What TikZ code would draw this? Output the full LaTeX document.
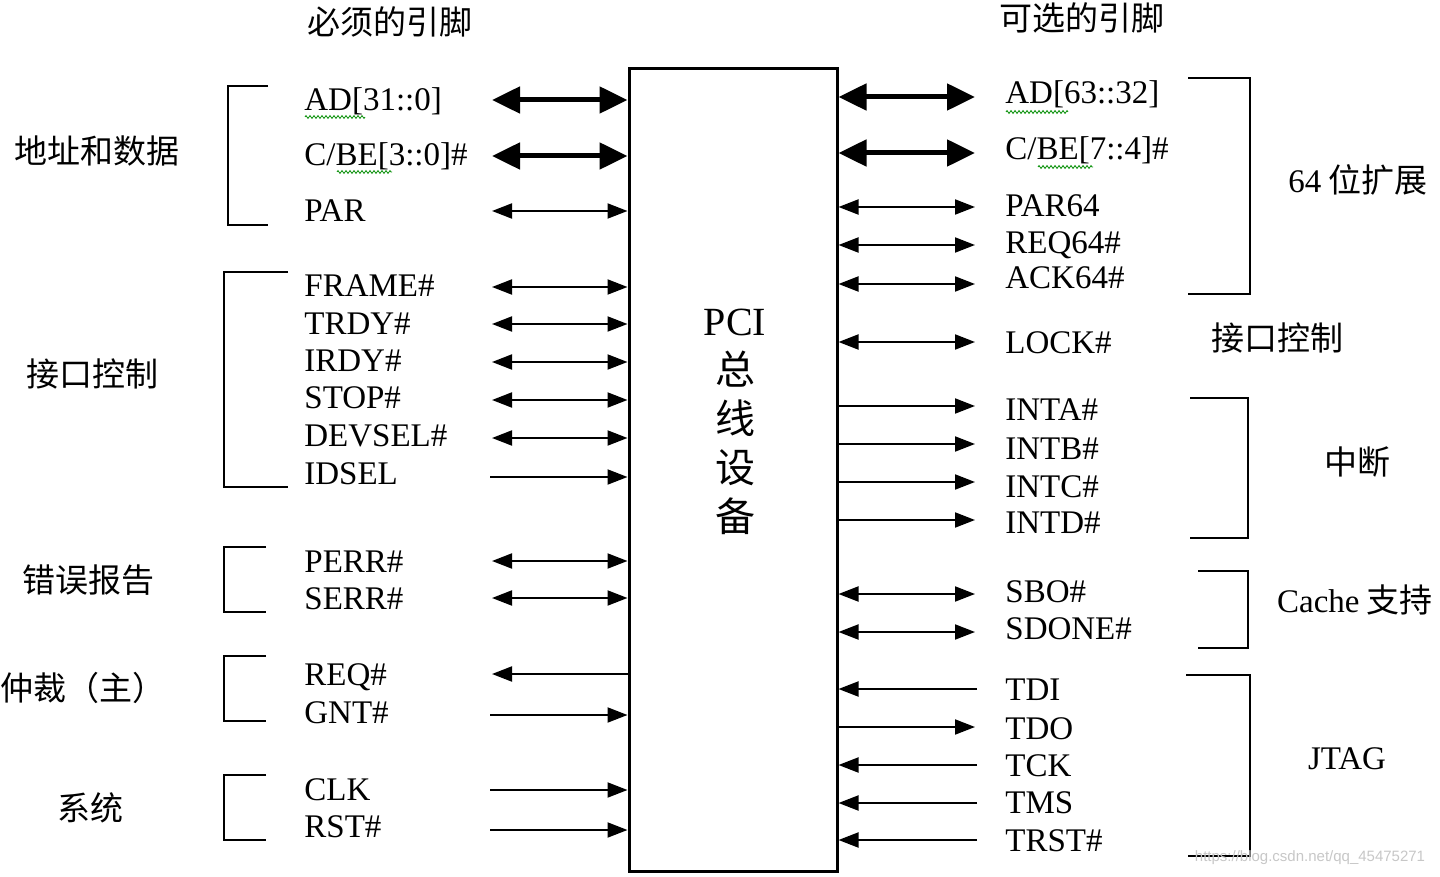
\documentclass[tikz,border=0pt]{standalone}
\usepackage{fontspec}
\setmainfont{Liberation Serif}
\setsansfont{Liberation Sans}
\newfontfamily\cjk{Noto Sans CJK SC}
\usetikzlibrary{arrows.meta,decorations.pathmorphing}

\tikzset{
  sig/.style={line width=1pt,>={Triangle[length=10pt,width=7.5pt]}},
  bus/.style={line width=2.5pt,>={Triangle[length=14pt,width=13pt]}},
  brk/.style={line width=1.3pt},
  pinl/.style={anchor=west,inner sep=0pt,text height=10.9pt,text depth=0pt,font=\fontsize{16.5}{20}\selectfont},
  grp/.style={inner sep=0pt,font=\fontsize{16.5}{20}\selectfont\cjk},
  squig/.style={green!55!black,line width=0.4pt,decorate,decoration={zigzag,segment length=2pt,amplitude=0.7pt}}
}

\begin{document}
\begin{tikzpicture}[x=0.5pt,y=-0.5pt,line cap=butt,line join=miter]
  \useasboundingbox (0,0) rectangle (1440,877);
  % the device
  \node[draw,line width=1.5pt,minimum width=104pt,minimum height=401pt,inner sep=0pt] (pci) at (733,470) {};
  \node[align=center,inner sep=0pt,font=\fontsize{20}{24.5}\selectfont] (pcitxt) at (735,422)
    {PCI\\{\cjk 总}\\{\cjk 线}\\{\cjk 设}\\{\cjk 备}};
  % titles
  \node[grp] (req) at (390,22) {必须的引脚};
  \node[grp] (opt) at (1082,18) {可选的引脚};

  % required pins
  \node[pinl] (ad) at (304,100) {AD[31::0]};
  \node[pinl] (cbe) at (304,155) {C/BE[3::0]\#};
  \node[pinl] (par) at (304,211) {PAR};
  \node[pinl] (frame) at (304,286) {FRAME\#};
  \node[pinl] (trdy) at (304,324) {TRDY\#};
  \node[pinl] (irdy) at (304,361) {IRDY\#};
  \node[pinl] (stop) at (304,398) {STOP\#};
  \node[pinl] (devsel) at (304,436) {DEVSEL\#};
  \node[pinl] (idsel) at (304,474) {IDSEL};
  \node[pinl] (perr) at (304,562) {PERR\#};
  \node[pinl] (serr) at (304,599) {SERR\#};
  \node[pinl] (reqn) at (304,675) {REQ\#};
  \node[pinl] (gnt) at (304,713) {GNT\#};
  \node[pinl] (clk) at (304,790) {CLK};
  \node[pinl] (rst) at (304,827) {RST\#};
  \draw[squig] (305,117) -- (365,117);
  \draw[squig] (337,172) -- (392,172);

  \draw[bus,<->] (492,100) coordinate (ad-x) -- (ad-x -| pci.west);
  \draw[bus,<->] (492,156) coordinate (cbe-x) -- (cbe-x -| pci.west);
  \draw[sig,<->] (492,211) coordinate (par-x) -- (par-x -| pci.west);
  \draw[sig,<->] (492,287) coordinate (frame-x) -- (frame-x -| pci.west);
  \draw[sig,<->] (492,324) coordinate (trdy-x) -- (trdy-x -| pci.west);
  \draw[sig,<->] (492,362) coordinate (irdy-x) -- (irdy-x -| pci.west);
  \draw[sig,<->] (492,400) coordinate (stop-x) -- (stop-x -| pci.west);
  \draw[sig,<->] (492,438) coordinate (devsel-x) -- (devsel-x -| pci.west);
  \draw[sig,->] (490,477) coordinate (idsel-x) -- (idsel-x -| pci.west);
  \draw[sig,<->] (492,561) coordinate (perr-x) -- (perr-x -| pci.west);
  \draw[sig,<->] (492,598) coordinate (serr-x) -- (serr-x -| pci.west);
  \draw[sig,<-] (492,674) coordinate (reqn-x) -- (reqn-x -| pci.west);
  \draw[sig,->] (490,715) coordinate (gnt-x) -- (gnt-x -| pci.west);
  \draw[sig,->] (490,790) coordinate (clk-x) -- (clk-x -| pci.west);
  \draw[sig,->] (490,830) coordinate (rst-x) -- (rst-x -| pci.west);

  % left groups
  \draw[brk] (268,86) -| (228,225) -- (268,225);
  \draw[brk] (288,272) -| (224,487) -- (288,487);
  \draw[brk] (266,547) -| (224,612) -- (266,612);
  \draw[brk] (266,656) -| (224,721) -- (266,721);
  \draw[brk] (266,775) -| (224,840) -- (266,840);
  \node[grp] (g-addr) at (97,151) {地址和数据};
  \node[grp] (g-ctrl) at (92,374) {接口控制};
  \node[grp] (g-err) at (88,580) {错误报告};
  \node[grp] (g-arb) at (83,688) {仲裁（主）};
  \node[grp] (g-sys) at (90,808) {系统};

  % optional pins
  \node[pinl] (ad64) at (1005,93) {AD[63::32]};
  \node[pinl] (cbe64) at (1005,149) {C/BE[7::4]\#};
  \node[pinl] (par64) at (1005,206) {PAR64};
  \node[pinl] (req64) at (1005,243) {REQ64\#};
  \node[pinl] (ack64) at (1005,278) {ACK64\#};
  \node[pinl] (lock) at (1005,343) {LOCK\#};
  \node[pinl] (inta) at (1005,410) {INTA\#};
  \node[pinl] (intb) at (1005,449) {INTB\#};
  \node[pinl] (intc) at (1005,487) {INTC\#};
  \node[pinl] (intd) at (1005,523) {INTD\#};
  \node[pinl] (sbo) at (1005,592) {SBO\#};
  \node[pinl] (sdone) at (1005,629) {SDONE\#};
  \node[pinl] (tdi) at (1005,690) {TDI};
  \node[pinl] (tdo) at (1005,729) {TDO};
  \node[pinl] (tck) at (1005,766) {TCK};
  \node[pinl] (tms) at (1005,803) {TMS};
  \node[pinl] (trst) at (1005,841) {TRST\#};
  \draw[squig] (1006,112) -- (1068,112);
  \draw[squig] (1038,167) -- (1093,167);

  \draw[bus,<->] (975,97) coordinate (ad64-x) -- (ad64-x -| pci.east);
  \draw[bus,<->] (975,153) coordinate (cbe64-x) -- (cbe64-x -| pci.east);
  \draw[sig,<->] (975,207) coordinate (par64-x) -- (par64-x -| pci.east);
  \draw[sig,<->] (975,245) coordinate (req64-x) -- (req64-x -| pci.east);
  \draw[sig,<->] (975,284) coordinate (ack64-x) -- (ack64-x -| pci.east);
  \draw[sig,<->] (975,342) coordinate (lock-x) -- (lock-x -| pci.east);
  \draw[sig,<-] (975,406) coordinate (inta-x) -- (inta-x -| pci.east);
  \draw[sig,<-] (975,444) coordinate (intb-x) -- (intb-x -| pci.east);
  \draw[sig,<-] (975,482) coordinate (intc-x) -- (intc-x -| pci.east);
  \draw[sig,<-] (975,520) coordinate (intd-x) -- (intd-x -| pci.east);
  \draw[sig,<->] (975,594) coordinate (sbo-x) -- (sbo-x -| pci.east);
  \draw[sig,<->] (975,632) coordinate (sdone-x) -- (sdone-x -| pci.east);
  \draw[sig,->] (977,689) coordinate (tdi-x) -- (tdi-x -| pci.east);
  \draw[sig,<-] (975,727) coordinate (tdo-x) -- (tdo-x -| pci.east);
  \draw[sig,->] (977,765) coordinate (tck-x) -- (tck-x -| pci.east);
  \draw[sig,->] (977,803) coordinate (tms-x) -- (tms-x -| pci.east);
  \draw[sig,->] (977,840) coordinate (trst-x) -- (trst-x -| pci.east);

  % right groups
  \draw[brk] (1188,78) -| (1250,294) -- (1188,294);
  \draw[brk] (1190,398) -| (1248,538) -- (1190,538);
  \draw[brk] (1198,571) -| (1248,648) -- (1198,648);
  \draw[brk] (1186,675) -| (1250,856) -- (1188,856);
  \node[grp] (g-64) at (1358,180) {{\rmfamily 64} 位扩展};
  \node[grp] (g-ctrl2) at (1277,338) {接口控制};
  \node[grp] (g-int) at (1357,462) {中断};
  \node[grp] (g-cache) at (1355,600) {{\rmfamily Cache} 支持};
  \node[inner sep=0pt,font=\fontsize{16.5}{20}\selectfont] (g-jtag) at (1347,759) {JTAG};

  \node[inner sep=0pt,text=black!22,font=\sffamily\fontsize{7.5}{9}\selectfont] (mark) at (1310,858) {https://blog.csdn.net/qq\_45475271};
\end{tikzpicture}
\end{document}
